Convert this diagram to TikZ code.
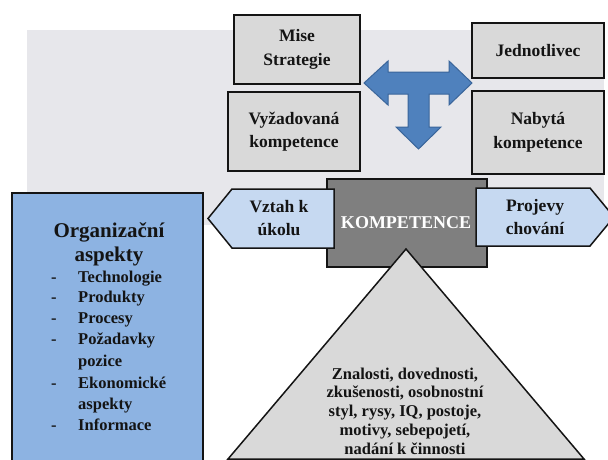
\documentclass[tikz,border=0pt]{standalone}
\usepackage{fontspec}
\setmainfont{Liberation Serif}
\definecolor{bggray}{HTML}{E7E7EB}
\definecolor{boxgray}{HTML}{D9D9D9}
\definecolor{coregray}{HTML}{7F7F7F}
\definecolor{paleblue}{HTML}{C6D9F1}
\definecolor{orgblue}{HTML}{8DB3E2}
\definecolor{arrowblue}{HTML}{4F81BD}
\definecolor{arrowedge}{HTML}{3A659A}
\definecolor{inkdark}{HTML}{141414}
\tikzset{
  graybox/.style={draw=inkdark, line width=2pt, fill=boxgray, align=center,
    inner sep=0pt, text=inkdark, font=\fontsize{17.5}{23.5}\selectfont\bfseries},
  tagshape/.style={draw=inkdark, line width=1.5pt, fill=paleblue, line join=miter},
  taglabel/.style={align=center, inner sep=0pt, text=inkdark,
    font=\fontsize{17.5}{23.5}\selectfont\bfseries},
  itemtext/.style={anchor=base west, inner sep=0pt, text=inkdark,
    font=\fontsize{16.5}{20}\selectfont\bfseries},
}
\begin{document}
\begin{tikzpicture}[x=1pt, y=-1pt]
\useasboundingbox (0,0) rectangle (608,459);
\begin{scope}
\clip (0,0) rectangle (608,459);

% light backdrop behind the upper part
\fill[bggray] (27,30) rectangle (604,225);

% four context boxes
\node[graybox, minimum width=126pt, minimum height=69pt] (mise) at (297,49.5) {Mise\\Strategie};
\node[graybox, minimum width=132pt, minimum height=79pt] (vyzad) at (294,131.5) {Vyžadovaná\\kompetence};
\node[graybox, minimum width=132pt, minimum height=55pt] (jedn) at (538,50.5) {Jednotlivec};
\node[graybox, minimum width=132pt, minimum height=83pt] (nabyta) at (538,132.5) {Nabytá\\kompetence};

% T-shaped three-way arrow
\filldraw[fill=arrowblue, draw=arrowedge, line width=1pt, line join=miter]
  (364,83) -- (388,61) -- (388,72) -- (449,72) -- (449,61) -- (472,83)
  -- (449,105) -- (449,94) -- (429,94) -- (429,127) -- (441,127)
  -- (418.5,149) -- (396,127) -- (408,127) -- (408,94) -- (388,94)
  -- (388,105) -- cycle;

% organisational aspects panel
\filldraw[fill=orgblue, draw=inkdark, line width=1.5pt] (12,193) rectangle (203,470);
\node[align=center, inner sep=0pt, text=inkdark,
  font=\fontsize{21}{24}\selectfont\bfseries] (orgtitle) at (109,244) {Organizační\\aspekty};
\foreach \t/\d/\yy [count=\i] in {Technologie/-/277, Produkty/-/297, Procesy/-/318,
    Požadavky/-/339, pozice//361, Ekonomické/-/383, aspekty//404, Informace/-/425} {
  \node[itemtext] (item\i) at (78,\yy+5.5) {\t};
  \node[itemtext] (dash\i) at (51,\yy+5.5) {\d};
}

% central competence block
\node[draw=inkdark, line width=2pt, fill=coregray, minimum width=160pt, minimum height=88pt,
  inner sep=0pt] (komp) at (407,223) {};
\node[text=white, inner sep=0pt, font=\fontsize{18}{20}\selectfont\bfseries] (kompt) at (406,223) {KOMPETENCE};

% pyramid of personal characteristics
\filldraw[fill=boxgray, draw=inkdark, line width=1.5pt, line join=miter]
  (406,249) -- (584,459) -- (228,459) -- cycle;
\coordinate (apex) at (406,249);
\node[align=center, inner sep=0pt, text=inkdark,
  font=\fontsize{16.5}{18.8}\selectfont\bfseries] (traits) at (405,411)
  {Znalosti, dovednosti,\\zkušenosti, osobnostní\\styl, rysy, IQ, postoje,\\motivy, sebepojetí,\\nadání k činnosti};

% side tags
\filldraw[tagshape] (208,218.5) -- (232,189) -- (334,189) -- (334,248) -- (232,248) -- cycle;
\node[taglabel] (vztah) at (279,218) {Vztah k\\úkolu};
\filldraw[tagshape] (476,188) -- (590,188) -- (614,217) -- (590,246) -- (476,246) -- cycle;
\node[taglabel] (projevy) at (535,217) {Projevy\\chování};
\end{scope}
\end{tikzpicture}
\end{document}
